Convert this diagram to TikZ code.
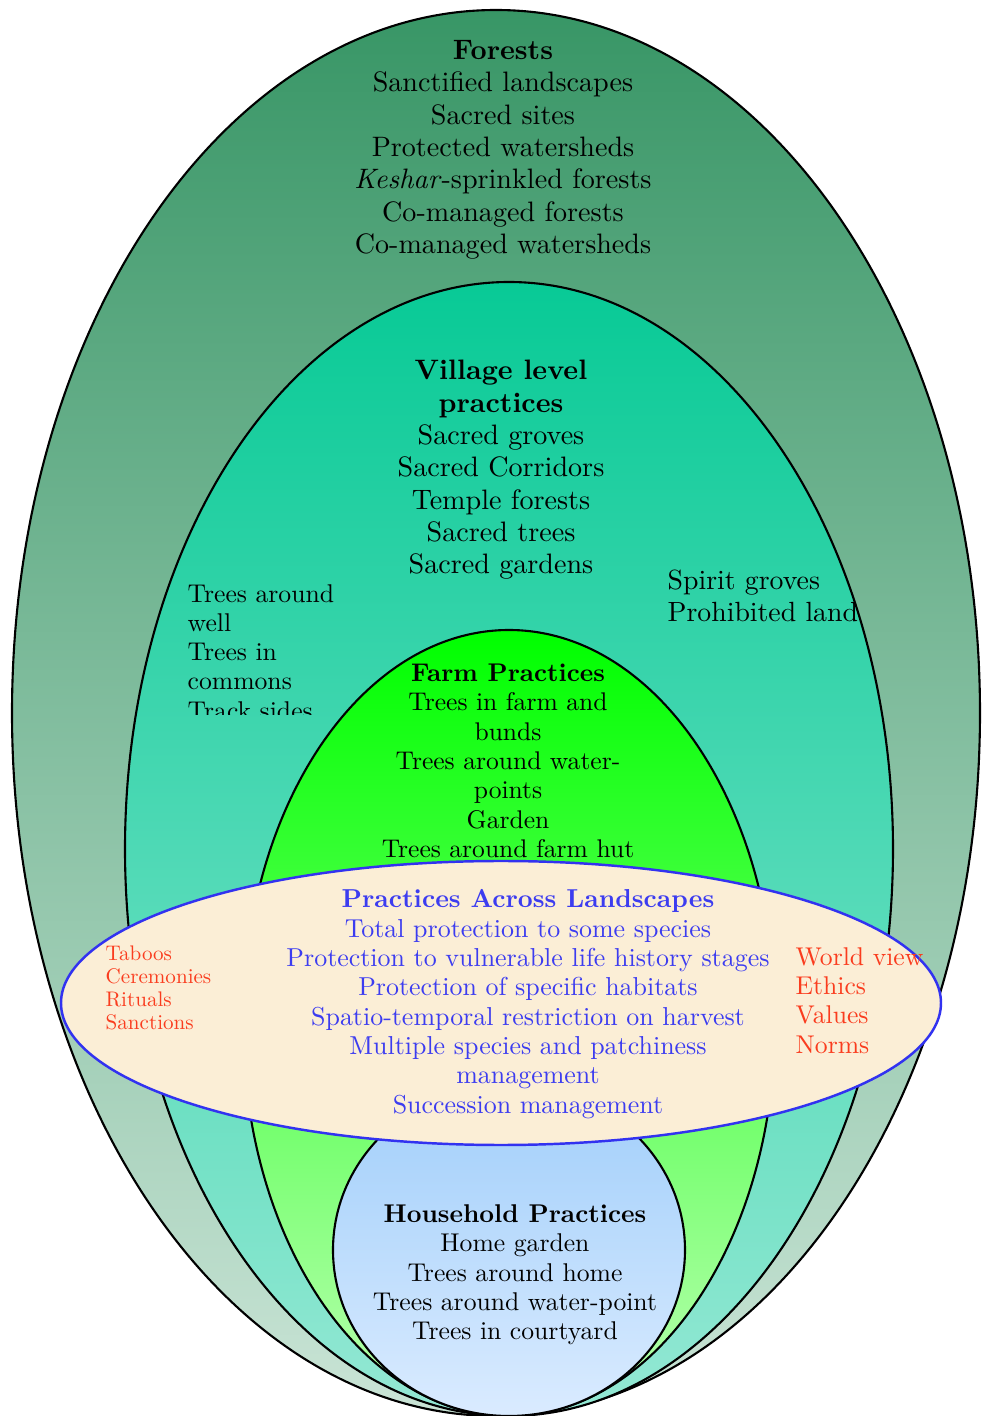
\documentclass[tikz,border=0pt]{standalone}
\usepackage{fontspec}
\setmainfont{lmroman10-regular.otf}[BoldFont=lmroman10-bold.otf,ItalicFont=lmroman10-italic.otf,BoldItalicFont=lmroman10-bolditalic.otf]
\definecolor{forestTop}{RGB}{56,150,102}
\definecolor{forestBot}{RGB}{202,228,214}
\definecolor{villageTop}{RGB}{8,202,150}
\definecolor{villageBot}{RGB}{148,232,212}
\definecolor{farmTop}{RGB}{0,255,0}
\definecolor{farmBot}{RGB}{186,255,176}
\definecolor{homeTop}{RGB}{160,206,250}
\definecolor{homeBot}{RGB}{218,235,255}
\definecolor{parchment}{RGB}{251,238,214}
\definecolor{edgeBlue}{RGB}{50,50,240}
\definecolor{normRed}{RGB}{250,60,30}
\definecolor{practiceBlue}{RGB}{60,60,240}
\tikzset{
  ring/.style={draw=black,line width=0.6pt},
  biglbl/.style={align=center,inner sep=0pt,font=\fontsize{8.0}{9.2}\selectfont},
  lbl/.style={align=center,inner sep=0pt,font=\fontsize{7.3}{8.35}\selectfont},
  sidelbl/.style={align=left,anchor=west,inner sep=0pt,font=\fontsize{7.3}{8.3}\selectfont},
  redlbl/.style={align=left,anchor=west,inner sep=0pt,text=normRed}
}
\begin{document}
\begin{tikzpicture}
            \useasboundingbox (0,0) rectangle (9.84,14.16);
            \shade[ring,top color=forestTop,bottom color=forestBot] (4.96,7.03) ellipse [x radius=4.84,y radius=7.03];
            \shade[ring,top color=villageTop,bottom color=villageBot] (5.09,5.67) ellipse [x radius=3.84,y radius=5.67];
            \shade[ring,top color=farmTop,bottom color=farmBot] (5.09,3.93) ellipse [x radius=2.66,y radius=3.93];
            \shade[ring,top color=homeTop,bottom color=homeBot] (5.09,1.66) ellipse [x radius=1.76,y radius=1.66];
            \fill[parchment,draw=edgeBlue,line width=0.7pt] (5.01,4.13) ellipse [x radius=4.40,y radius=1.42];

            \node[biglbl] (forests) at (5.03,12.66) {\textbf{Forests}\\Sanctified landscapes\\Sacred sites\\Protected watersheds\\\textit{Keshar}-sprinkled forests\\Co-managed forests\\Co-managed watersheds};
            \node[biglbl] (village) at (5.01,9.46) {\textbf{Village level}\\\textbf{practices}\\Sacred groves\\Sacred Corridors\\Temple forests\\Sacred trees\\Sacred gardens};
            \begin{scope}
            \clip (1.7,7.01) rectangle (3.6,8.5);
            \node[sidelbl] (commons) at (1.87,7.64) {Trees around\\well\\Trees in\\commons\\Track sides};
            \end{scope}
            \node[sidelbl,font=\fontsize{7.9}{8.9}\selectfont] (spirit) at (6.67,8.2) {Spirit groves\\Prohibited land};
            \node[lbl,font=\fontsize{7.27}{8.35}\selectfont] (farm) at (5.08,6.55) {\textbf{Farm Practices}\\Trees in farm and\\bunds\\Trees around water-\\points\\Garden\\Trees around farm hut};
            \node[lbl,font=\fontsize{7.38}{8.35}\selectfont,text=practiceBlue] (across) at (5.28,4.12) {\textbf{Practices Across Landscapes}\\Total protection to some species\\Protection to vulnerable life history stages\\Protection of specific habitats\\Spatio-temporal restriction on harvest\\Multiple species and patchiness\\management\\Succession management};
            \node[redlbl,font=\fontsize{6.0}{6.6}\selectfont] (taboos) at (1.05,4.28) {Taboos\\Ceremonies\\Rituals\\Sanctions};
            \node[redlbl,font=\fontsize{7.3}{8.3}\selectfont] (values) at (7.95,4.155) {World view\\Ethics\\Values\\Norms};
            \node[lbl] (household) at (5.15,1.41) {\textbf{Household Practices}\\Home garden\\Trees around home\\Trees around water-point\\Trees in courtyard};
\end{tikzpicture}
\end{document}
